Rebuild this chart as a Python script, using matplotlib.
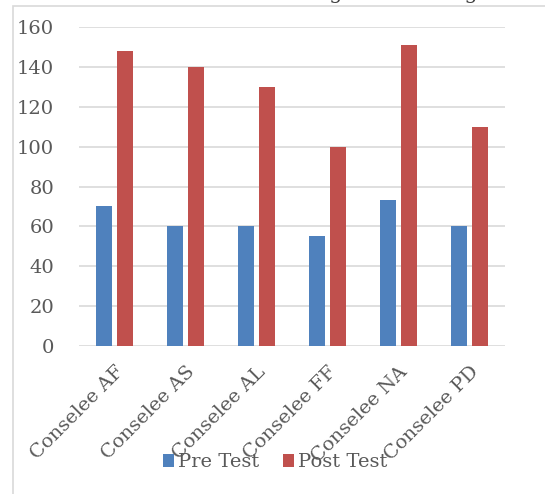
import numpy as np
import matplotlib.pyplot as plt
from matplotlib.patches import Rectangle

# data
categories = ["Conselee AF", "Conselee AS", "Conselee AL", "Conselee FF", "Conselee NA", "Conselee PD"]
pre_test = [70, 60, 60, 55, 73, 60]
post_test = [148, 140, 130, 100, 151, 110]
yticks = [0, 20, 40, 60, 80, 100, 120, 140, 160]

blue = "#4F81BD"
red = "#C0504D"
txt = "#595959"

plt.rcParams['font.family'] = ['DejaVu Serif']

fig = plt.figure(figsize=(5.45, 4.94), dpi=100)
ax = fig.add_axes([0.145, 0.2996, 0.782, 0.6457])

x = np.arange(len(categories))
w = 0.225
off = 0.148
ax.bar(x - off, pre_test, w, color=blue, label="Pre Test", zorder=3)
ax.bar(x + off, post_test, w, color=red, label="Post Test", zorder=3)

ax.set_xlim(-0.5, len(categories) - 0.5)
ax.set_ylim(0, 160)
ax.set_yticks(yticks)
ax.yaxis.grid(True, color="#D9D9D9", lw=1.2, zorder=0)
for s in ax.spines.values():
    s.set_visible(False)
ax.tick_params(axis='both', length=0, labelsize=14, colors=txt)
ax.tick_params(axis='y', pad=18)
ax.set_xticks(x)
ax.set_xticklabels(categories, rotation=45, ha='right', va='top', rotation_mode='anchor')
ax.tick_params(axis='x', pad=12)

fig.legend(loc='center', bbox_to_anchor=(0.505, 0.064), ncol=2, frameon=False,
           fontsize=14, handlelength=0.6, handleheight=0.6, handletextpad=0.2,
           columnspacing=1.2, labelcolor=txt)

# outer chart border (partly cropped)
fig.patches.append(Rectangle((0.024, -0.1), 1.2, 1.088, transform=fig.transFigure,
                             fill=False, ec="#D9D9D9", lw=1.2))
# title cut off at the top of the picture
fig.text(0.5, 1.014, "The Students at SMP Negeri 3 Malang", ha='center', va='center',
         fontsize=15, color="#404040")

fig.savefig("out.png", dpi=100)
